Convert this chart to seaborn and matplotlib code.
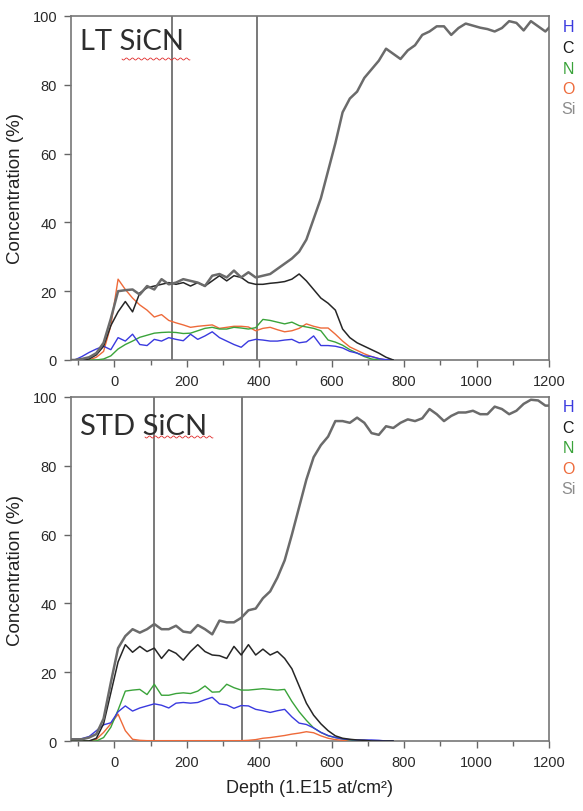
import numpy as np
import pandas as pd
import matplotlib
matplotlib.use("Agg")
import matplotlib.pyplot as plt
import seaborn as sns

# ---------------- data ----------------
depth_short = list(range(-130, 771, 20))   # 46 points for H, C, N, O
depth_long = list(range(-130, 1211, 20))   # 68 points for Si

# LT SiCN (top)
lt_si = [0, 0, 0.3, 0.8, 2, 5, 12, 20, 20.3, 20.5, 19, 21.5, 20.5, 23.5, 22, 22.5, 23.5, 23, 22.5, 21.5,
         24.5, 25, 24, 26, 24, 25.5, 24, 24.5, 25, 26.5, 28, 29.5, 31.5, 35, 41, 47, 55, 63, 72, 76,
         78, 82, 84.5, 87, 90.5, 89, 87.5, 90, 91.5, 94.5, 95.5, 97, 97, 94.5, 96.5, 97.8, 97.2, 96.6,
         96.2, 95.5, 96.5, 98.5, 98, 95.8, 98.5, 97, 95.5, 97.7]
lt_c = [0, 0, 0, 0.3, 1.5, 4, 10, 14, 17, 14, 19.5, 21, 21.5, 22, 22.5, 22, 22.5, 21.5, 22.5, 21.5,
        23, 24.5, 23, 24.5, 24, 22.5, 22, 22, 22.3, 22.5, 22.8, 23.5, 25, 23, 20.5, 18, 16.5, 14.5, 9,
        6.5, 5, 4, 3, 2, 0.8, 0]
lt_h = [0, 0, 1, 2.2, 3.2, 4, 3, 6.5, 5.5, 7.5, 4.5, 4.2, 6, 5.5, 6.5, 6, 5.6, 7.5, 6, 7, 8.2, 6.5,
        5.5, 4.5, 3.7, 5.5, 6, 5.8, 5.5, 5.5, 5.8, 6, 5, 5.3, 7, 4.2, 4.2, 4, 3.5, 2.5, 2, 1.2, 1,
        0.4, 0.1, 0]
lt_n = [0, 0, 0, 0, 0, 0.3, 1.2, 3.2, 4.5, 5.5, 6.6, 7.2, 7.8, 8, 8.1, 8, 7.7, 7.8, 8.5, 9.2, 9.5,
        9, 9, 9.5, 9.3, 9, 9.4, 11.8, 11.5, 11, 10.5, 11, 10, 9.6, 9.2, 8.5, 5.8, 5.2, 4.3, 3, 2, 1,
        0.3, 0, 0, 0]
lt_o = [0, 0, 0, 0, 0.8, 2.5, 10, 23.5, 20.5, 18, 16, 14.5, 12.5, 13.2, 11.5, 10.8, 10.2, 9.5, 9.8,
        10, 10.2, 9.2, 9.5, 9.8, 9.8, 9.6, 8.5, 9.2, 9.5, 8.8, 8.2, 8.5, 9.2, 10.5, 9.8, 9.3, 9.3,
        7.5, 5.5, 3.8, 2.8, 1.8, 1, 0.4, 0, 0]

# STD SiCN (bottom)
std_si = [0.5, 0.5, 0.5, 1, 2, 6.5, 17, 27, 30.5, 32.5, 31.5, 32.5, 34, 32.5, 32.5, 33.5, 31.8, 31.5,
          33.7, 32.5, 31, 35, 34.5, 34.5, 35.8, 38, 38.5, 41.5, 43.5, 47.5, 52.5, 60, 68, 76, 82.5,
          86, 88.5, 93, 93, 92.5, 94, 92.5, 89.5, 89, 91.5, 91, 92.5, 93.5, 93, 93.8, 96.5, 95, 93,
          94.5, 95.5, 95.5, 96, 95, 95, 97.2, 96.5, 95, 96, 98, 99.2, 99, 97.5, 97.5]
std_c = [0, 0, 0, 0, 0.8, 5, 14, 23, 28, 25.8, 27.5, 26, 27, 24, 26.5, 25.5, 23.5, 26, 28, 26, 25,
         24.8, 24, 27.5, 25, 28, 25, 26.7, 25, 26, 24, 21, 16, 11, 7.5, 5, 3, 1.5, 0.8, 0.5, 0.3,
         0.2, 0, 0, 0, 0]
std_h = [0.5, 0.5, 0.7, 1.3, 3, 4.7, 5.3, 8.5, 10.2, 8.7, 9.6, 10.2, 10.8, 10.4, 9.6, 11, 11.2, 11,
         11.2, 12, 12.7, 10.8, 10.5, 9.5, 10.3, 10.2, 9.2, 8.8, 8.3, 8.8, 9.2, 7, 5.2, 4.8, 3.8, 2.5,
         1.6, 1, 0.6, 0.4, 0.3, 0.3, 0.3, 0.2, 0, 0]
std_n = [0, 0, 0, 0, 0, 1, 4, 9, 14.5, 14.8, 15, 13.5, 16.5, 13.3, 13.3, 13.8, 14, 13.8, 14.5, 16,
         14.2, 14.3, 16.5, 15.5, 14.8, 14.8, 15, 15.2, 15, 14.8, 15, 11.5, 8.5, 6, 3.8, 2.5, 1.5, 1,
         0.6, 0.3, 0, 0, 0, 0, 0, 0]
std_o = [0, 0, 0, 0, 0.5, 2.5, 5, 7.8, 3, 0.5, 0.2, 0.1, 0.1, 0.1, 0.1, 0.1, 0.1, 0.1, 0.1, 0.1, 0.1,
         0.1, 0.1, 0.1, 0.1, 0.2, 0.4, 0.8, 1, 1.3, 1.6, 2, 2.3, 2.7, 2.4, 1.5, 0.8, 0.4, 0.2, 0, 0,
         0, 0, 0, 0, 0]

elements = ["H", "C", "N", "O", "Si"]
titles = ["LT SiCN", "STD SiCN"]
interfaces_lt = [158, 395]
interfaces_std = [110, 352]
x_ticks = [0, 200, 400, 600, 800, 1000, 1200]
y_ticks = [0, 20, 40, 60, 80, 100]

# ---------------- style ----------------
sns.set_style("ticks")
plt.rcParams["font.family"] = ["Liberation Sans", "DejaVu Sans"]

colors = {"H": "#3a3adf", "C": "#262626", "N": "#3aa33a", "O": "#ee6a3a", "Si": "#6b6b6b"}
widths = {"H": 1.0, "C": 1.1, "N": 1.0, "O": 1.0, "Si": 1.8}
legend_colors = {"H": "#3a3adf", "C": "#1a1a1a", "N": "#3aa33a", "O": "#ee6a3a", "Si": "#8c8c8c"}

W, H = 583, 812
fig = plt.figure(figsize=(W / 100, H / 100), dpi=100)
ax_top = fig.add_axes([71 / W, 1 - 361 / H, 478 / W, 344 / H])
ax_bot = fig.add_axes([71 / W, 1 - 742 / H, 478 / W, 344 / H])

panels = [
    (ax_top, {"H": lt_h, "C": lt_c, "N": lt_n, "O": lt_o, "Si": lt_si}, interfaces_lt, titles[0],
     0.904, (122, 190, 60), 28),
    (ax_bot, {"H": std_h, "C": std_c, "N": std_n, "O": std_o, "Si": std_si}, interfaces_std, titles[1],
     0.892, (145, 213, 438), 408),
]

for ax, series, ifaces, title, ty, wavy, leg_y in panels:
    for v in ifaces:
        ax.axvline(v, color="#555555", lw=1.1, zorder=1)
    for el in ["O", "N", "H", "C", "Si"]:
        xs = depth_long if el == "Si" else depth_short
        df = pd.DataFrame({"depth": xs, "conc": series[el]})
        sns.lineplot(data=df, x="depth", y="conc", ax=ax, color=colors[el],
                     lw=widths[el], estimator=None, sort=False, zorder=3)
    ax.set_xlim(-120, 1200)
    ax.set_ylim(0, 100)
    ax.set_xticks(x_ticks)
    ax.set_xticks(list(range(-100, 1201, 100)), minor=True)
    ax.set_yticks(y_ticks)
    ax.tick_params(axis="both", which="major", direction="out", length=5, width=1.0,
                   color="#666666", labelsize=10.5, labelcolor="#2a2a2a", pad=5)
    ax.tick_params(axis="x", which="minor", direction="out", length=3.5, width=1.0, color="#666666")
    for s in ax.spines.values():
        s.set_visible(True)
        s.set_color("#777777")
        s.set_linewidth(1.2)
    ax.set_ylabel("Concentration (%)", fontsize=13.5, color="#222222", labelpad=6)
    ax.set_xlabel("")
    ax.text(0.019, ty, title, transform=ax.transAxes, fontsize=21, color="#2e2e2e",
            family=["Lato", "DejaVu Sans"], ha="left", va="baseline")
    # spell-check squiggle under "SiCN"
    x0, x1, yw = wavy
    t = np.linspace(0, 1, 120)
    xw = (x0 + (x1 - x0) * t) / W
    yw_arr = 1 - (yw + 1.0 * np.sin(t * (x1 - x0) / 3.0 * np.pi)) / H
    fig.add_artist(plt.Line2D(xw, yw_arr, color="#e03030", lw=0.6, transform=fig.transFigure))
    for i, el in enumerate(elements):
        fig.text(568 / W, 1 - (leg_y + i * 20.5) / H, el, color=legend_colors[el], fontsize=11.5,
                 ha="center", va="center")

ax_bot.set_xlabel("Depth (1.E15 at/cm²)", fontsize=13, color="#222222", labelpad=7)

fig.savefig("out.png", dpi=100)
